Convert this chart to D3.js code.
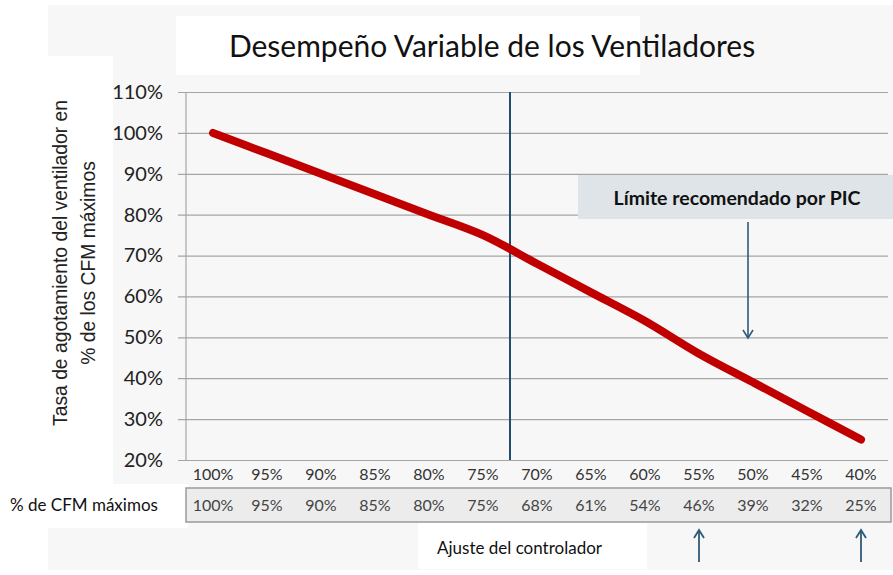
<!DOCTYPE html>
<html><head><meta charset="utf-8">
<script src="https://cdn.jsdelivr.net/npm/d3@7"></script>
<style>body{margin:0;background:#fff}svg{display:block}</style>
</head><body>
<svg id="c" width="893" height="575"></svg>
<script>
const title = "Desempeño Variable de los Ventiladores";
const yTitle = ["Tasa de agotamiento del ventilador en", "% de los CFM máximos"];
const categories = ["100%","95%","90%","85%","80%","75%","70%","65%","60%","55%","50%","45%","40%"];
const cfmValues = [100,95,90,85,80,75,68,61,54,46,39,32,25];
const yTicks = [20,30,40,50,60,70,80,90,100,110];
const rowLabel = "% de CFM máximos";
const bottomLabel = "Ajuste del controlador";
const limitLabel = "Límite recomendado por PIC";
const dividerAfter = "75%";
const upArrowCats = ["55%","40%"];
const limitCat = "50%";

const svg = d3.select("#c");
const FONT = "Lato, 'Open Sans', sans-serif";

// backgrounds
svg.append("rect").attr("x",0).attr("y",0).attr("width",893).attr("height",575).attr("fill","#ffffff");
svg.append("rect").attr("x",48).attr("y",5).attr("width",845).attr("height",565).attr("fill","#f7f7f7");
svg.append("rect").attr("x",176).attr("y",16).attr("width",464).attr("height",59).attr("fill","#ffffff");
svg.append("rect").attr("x",48).attr("y",56).attr("width",65).attr("height",428).attr("fill","#ffffff");
svg.append("rect").attr("x",0).attr("y",484).attr("width",188).attr("height",44).attr("fill","#ffffff");
svg.append("rect").attr("x",418).attr("y",523).attr("width",229).attr("height",46).attr("fill","#ffffff");

const x = d3.scaleBand().domain(categories).range([186,888]).padding(0);
const y = d3.scaleLinear().domain([20,110]).range([460,92]);
const bw = x.bandwidth();

// title
svg.append("text").attr("x",492).attr("y",57).attr("text-anchor","middle")
  .attr("font-family",FONT).attr("font-size",30).attr("fill","#111").text(title);

// y grid + axis
const yAxis = d3.axisLeft(y).tickValues(yTicks).tickSize(-(888-178)).tickFormat(d=>d+"%");
const ga = svg.append("g").attr("transform","translate(178,0)").call(yAxis);
ga.select(".domain").remove();
ga.selectAll(".tick line").attr("stroke","#a6a6a6").attr("stroke-width",1.2);
ga.selectAll(".tick text").attr("x",-15).attr("font-family",FONT).attr("font-size",20).attr("fill","#222");
svg.append("line").attr("x1",186).attr("x2",186).attr("y1",y(110)).attr("y2",y(20)).attr("stroke","#a6a6a6").attr("stroke-width",1.2);

// y title
const yt = svg.append("text").attr("transform","translate(0,263) rotate(-90)")
  .attr("text-anchor","middle").attr("font-family","'Liberation Sans', Arial, sans-serif").attr("font-size",19.3).attr("fill","#222");
yt.append("tspan").attr("x",0).attr("y",67).text(yTitle[0]);
yt.append("tspan").attr("x",0).attr("y",95).text(yTitle[1]);

// x category labels
const xAxis = d3.axisBottom(x).tickSize(0).tickPadding(0);
const gx = svg.append("g").attr("transform","translate(0,466)").call(xAxis);
gx.select(".domain").remove();
gx.selectAll(".tick text").attr("dy","0.9em").attr("font-family",FONT).attr("font-size",16).attr("fill","#333");

// table row
svg.append("rect").attr("x",186).attr("y",488).attr("width",705).attr("height",34)
  .attr("fill","#ececec").attr("stroke","#9a9a9a").attr("stroke-width",1.5);
svg.append("g").selectAll("text").data(cfmValues).join("text")
  .attr("x",(d,i)=>x(categories[i])+bw/2).attr("y",511).attr("text-anchor","middle")
  .attr("font-family",FONT).attr("font-size",16).attr("fill","#444").text(d=>d+"%");
svg.append("text").attr("x",10).attr("y",511).attr("font-family",FONT).attr("font-size",17).attr("fill","#111").text(rowLabel);

// divider
const dx = x(dividerAfter)+bw;
svg.append("line").attr("x1",dx).attr("x2",dx).attr("y1",y(110)).attr("y2",y(20)).attr("stroke","#1f4e6e").attr("stroke-width",2);

// red line
const line = d3.line().x((d,i)=>x(categories[i])+bw/2).y(d=>y(d)).curve(d3.curveCatmullRom);
svg.append("path").datum(cfmValues).attr("d",line).attr("fill","none").attr("stroke","#c00000")
  .attr("stroke-width",8).attr("stroke-linecap","round").attr("stroke-linejoin","round");

// limit annotation
svg.append("rect").attr("x",578).attr("y",175).attr("width",315).attr("height",44).attr("fill","#dfe4e8");
svg.append("text").attr("x",737).attr("y",205).attr("text-anchor","middle").attr("font-family",FONT)
  .attr("font-weight","bold").attr("font-size",19.5).attr("fill","#111").text(limitLabel);
const ax = x(limitCat)+bw/2-5;
svg.append("line").attr("x1",ax).attr("x2",ax).attr("y1",222).attr("y2",338).attr("stroke","#2e5a7a").attr("stroke-width",1.6);
svg.append("path").attr("d",`M${ax-5},${330}L${ax},${338}L${ax+5},${330}`).attr("fill","none").attr("stroke","#2e5a7a").attr("stroke-width",1.6);

// bottom label
svg.append("text").attr("x",437).attr("y",554).attr("font-family",FONT).attr("font-size",17).attr("fill","#111").text(bottomLabel);

// up arrows
upArrowCats.forEach(c=>{
  const cx = x(c)+bw/2;
  svg.append("line").attr("x1",cx).attr("x2",cx).attr("y1",530).attr("y2",562).attr("stroke","#2e5a7a").attr("stroke-width",1.8);
  svg.append("path").attr("d",`M${cx-5},${538}L${cx},${530}L${cx+5},${538}`).attr("fill","none").attr("stroke","#2e5a7a").attr("stroke-width",1.8);
});
</script>
</body></html>
